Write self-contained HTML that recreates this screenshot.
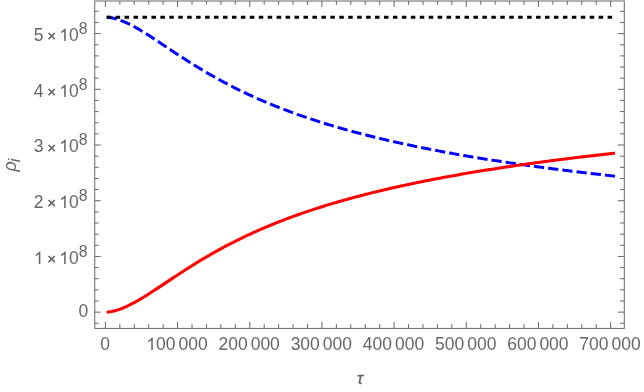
<!DOCTYPE html>
<html><head><meta charset="utf-8"><title>plot</title>
<style>
html,body{margin:0;padding:0;background:#fff;}
body{width:644px;height:392px;overflow:hidden;font-family:"Liberation Sans",sans-serif;}
svg{display:block;}
text{font-family:"Liberation Sans",sans-serif;font-size:17.5px;fill:#666;}
</style></head><body>
<svg width="644" height="392" viewBox="0 0 644 392">
<rect width="644" height="392" fill="#fff"/>
<path d="M106.70,17.21 L108.20,17.33 L109.70,17.51 L111.20,17.75 L112.70,18.05 L114.20,18.40 L115.70,18.79 L117.20,19.23 L118.70,19.72 L120.20,20.24 L121.70,20.80 L123.20,21.40 L124.70,22.03 L126.20,22.69 L127.70,23.38 L129.20,24.10 L130.70,24.85 L132.20,25.62 L133.70,26.42 L135.20,27.24 L136.70,28.08 L138.20,28.93 L139.70,29.81 L141.20,30.70 L142.70,31.60 L144.20,32.52 L145.70,33.45 L147.20,34.39 L148.70,35.34 L150.20,36.30 L151.70,37.27 L153.20,38.25 L154.70,39.23 L156.20,40.21 L157.70,41.20 L159.20,42.20 L160.70,43.19 L162.20,44.19 L163.70,45.19 L165.20,46.19 L166.70,47.19 L168.20,48.19 L169.70,49.19 L171.20,50.19 L172.70,51.18 L174.20,52.17 L175.70,53.16 L177.20,54.15 L178.70,55.13 L180.20,56.11 L181.70,57.09 L183.20,58.06 L184.70,59.03 L186.20,59.99 L187.70,60.95 L189.20,61.90 L190.70,62.84 L192.20,63.78 L193.70,64.72 L195.20,65.65 L196.70,66.57 L198.20,67.49 L199.70,68.40 L201.20,69.30 L202.70,70.20 L204.20,71.09 L205.70,71.98 L207.20,72.86 L208.70,73.73 L210.20,74.59 L211.70,75.45 L213.20,76.30 L214.70,77.15 L216.20,77.99 L217.70,78.82 L219.20,79.65 L220.70,80.46 L222.20,81.28 L223.70,82.08 L225.20,82.88 L226.70,83.67 L228.20,84.46 L229.70,85.24 L231.20,86.01 L232.70,86.78 L234.20,87.54 L235.70,88.29 L237.20,89.04 L238.70,89.78 L240.20,90.51 L241.70,91.24 L243.20,91.96 L244.70,92.68 L246.20,93.39 L247.70,94.09 L249.20,94.79 L250.70,95.48 L252.20,96.17 L253.70,96.85 L255.20,97.53 L256.70,98.20 L258.20,98.86 L259.70,99.52 L261.20,100.17 L262.70,100.82 L264.20,101.46 L265.70,102.09 L267.20,102.72 L268.70,103.35 L270.20,103.97 L271.70,104.59 L273.20,105.20 L274.70,105.80 L276.20,106.40 L277.70,107.00 L279.20,107.59 L280.70,108.17 L282.20,108.75 L283.70,109.33 L285.20,109.90 L286.70,110.47 L288.20,111.03 L289.70,111.59 L291.20,112.14 L292.70,112.69 L294.20,113.23 L295.70,113.77 L297.20,114.31 L298.70,114.84 L300.20,115.37 L301.70,115.89 L303.20,116.41 L304.70,116.93 L306.20,117.44 L307.70,117.95 L309.20,118.45 L310.70,118.95 L312.20,119.44 L313.70,119.94 L315.20,120.42 L316.70,120.91 L318.20,121.39 L319.70,121.87 L321.20,122.34 L322.70,122.81 L324.20,123.28 L325.70,123.74 L327.20,124.20 L328.70,124.66 L330.20,125.11 L331.70,125.56 L333.20,126.00 L334.70,126.45 L336.20,126.89 L337.70,127.32 L339.20,127.76 L340.70,128.19 L342.20,128.62 L343.70,129.04 L345.20,129.46 L346.70,129.88 L348.20,130.30 L349.70,130.71 L351.20,131.12 L352.70,131.53 L354.20,131.93 L355.70,132.33 L357.20,132.73 L358.70,133.13 L360.20,133.52 L361.70,133.91 L363.20,134.30 L364.70,134.68 L366.20,135.07 L367.70,135.45 L369.20,135.82 L370.70,136.20 L372.20,136.57 L373.70,136.94 L375.20,137.31 L376.70,137.68 L378.20,138.04 L379.70,138.40 L381.20,138.76 L382.70,139.11 L384.20,139.47 L385.70,139.82 L387.20,140.17 L388.70,140.52 L390.20,140.86 L391.70,141.20 L393.20,141.54 L394.70,141.88 L396.20,142.22 L397.70,142.55 L399.20,142.88 L400.70,143.21 L402.20,143.54 L403.70,143.87 L405.20,144.19 L406.70,144.52 L408.20,144.84 L409.70,145.15 L411.20,145.47 L412.70,145.78 L414.20,146.10 L415.70,146.41 L417.20,146.72 L418.70,147.02 L420.20,147.33 L421.70,147.63 L423.20,147.93 L424.70,148.23 L426.20,148.53 L427.70,148.83 L429.20,149.12 L430.70,149.42 L432.20,149.71 L433.70,150.00 L435.20,150.29 L436.70,150.57 L438.20,150.86 L439.70,151.14 L441.20,151.42 L442.70,151.70 L444.20,151.98 L445.70,152.26 L447.20,152.54 L448.70,152.81 L450.20,153.08 L451.70,153.35 L453.20,153.62 L454.70,153.89 L456.20,154.16 L457.70,154.42 L459.20,154.69 L460.70,154.95 L462.20,155.21 L463.70,155.47 L465.20,155.73 L466.70,155.99 L468.20,156.24 L469.70,156.49 L471.20,156.75 L472.70,157.00 L474.20,157.25 L475.70,157.50 L477.20,157.75 L478.70,157.99 L480.20,158.24 L481.70,158.48 L483.20,158.72 L484.70,158.97 L486.20,159.21 L487.70,159.45 L489.20,159.68 L490.70,159.92 L492.20,160.16 L493.70,160.39 L495.20,160.62 L496.70,160.85 L498.20,161.09 L499.70,161.32 L501.20,161.54 L502.70,161.77 L504.20,162.00 L505.70,162.22 L507.20,162.45 L508.70,162.67 L510.20,162.89 L511.70,163.11 L513.20,163.33 L514.70,163.55 L516.20,163.77 L517.70,163.99 L519.20,164.20 L520.70,164.42 L522.20,164.63 L523.70,164.84 L525.20,165.06 L526.70,165.27 L528.20,165.48 L529.70,165.68 L531.20,165.89 L532.70,166.10 L534.20,166.31 L535.70,166.51 L537.20,166.71 L538.70,166.92 L540.20,167.12 L541.70,167.32 L543.20,167.52 L544.70,167.72 L546.20,167.92 L547.70,168.12 L549.20,168.31 L550.70,168.51 L552.20,168.71 L553.70,168.90 L555.20,169.09 L556.70,169.29 L558.20,169.48 L559.70,169.67 L561.20,169.86 L562.70,170.05 L564.20,170.24 L565.70,170.42 L567.20,170.61 L568.70,170.80 L570.20,170.98 L571.70,171.17 L573.20,171.35 L574.70,171.53 L576.20,171.72 L577.70,171.90 L579.20,172.08 L580.70,172.26 L582.20,172.44 L583.70,172.62 L585.20,172.79 L586.70,172.97 L588.20,173.15 L589.70,173.32 L591.20,173.50 L592.70,173.67 L594.20,173.84 L595.70,174.02 L597.20,174.19 L598.70,174.36 L600.20,174.53 L601.70,174.70 L603.20,174.87 L604.70,175.04 L606.20,175.20 L607.70,175.37 L609.20,175.54 L610.70,175.70 L612.20,175.87 L613.70,176.03 L615.00,176.18" fill="none" stroke="#0000ff" stroke-width="3" stroke-dasharray="10.25 4.055" stroke-linejoin="round"/>
<path d="M106.70,312.11 L108.20,311.99 L109.70,311.80 L111.20,311.56 L112.70,311.26 L114.20,310.92 L115.70,310.52 L117.20,310.08 L118.70,309.60 L120.20,309.08 L121.70,308.52 L123.20,307.92 L124.70,307.29 L126.20,306.63 L127.70,305.93 L129.20,305.21 L130.70,304.46 L132.20,303.69 L133.70,302.90 L135.20,302.08 L136.70,301.24 L138.20,300.38 L139.70,299.51 L141.20,298.62 L142.70,297.71 L144.20,296.79 L145.70,295.86 L147.20,294.92 L148.70,293.97 L150.20,293.01 L151.70,292.04 L153.20,291.07 L154.70,290.09 L156.20,289.10 L157.70,288.11 L159.20,287.12 L160.70,286.12 L162.20,285.12 L163.70,284.13 L165.20,283.13 L166.70,282.12 L168.20,281.13 L169.70,280.13 L171.20,279.13 L172.70,278.13 L174.20,277.14 L175.70,276.15 L177.20,275.16 L178.70,274.18 L180.20,273.20 L181.70,272.23 L183.20,271.25 L184.70,270.29 L186.20,269.33 L187.70,268.37 L189.20,267.42 L190.70,266.47 L192.20,265.53 L193.70,264.60 L195.20,263.67 L196.70,262.74 L198.20,261.83 L199.70,260.92 L201.20,260.01 L202.70,259.11 L204.20,258.22 L205.70,257.34 L207.20,256.46 L208.70,255.59 L210.20,254.72 L211.70,253.86 L213.20,253.01 L214.70,252.17 L216.20,251.33 L217.70,250.50 L219.20,249.67 L220.70,248.85 L222.20,248.04 L223.70,247.23 L225.20,246.43 L226.70,245.64 L228.20,244.86 L229.70,244.08 L231.20,243.31 L232.70,242.54 L234.20,241.78 L235.70,241.03 L237.20,240.28 L238.70,239.54 L240.20,238.80 L241.70,238.07 L243.20,237.35 L244.70,236.64 L246.20,235.93 L247.70,235.22 L249.20,234.52 L250.70,233.83 L252.20,233.15 L253.70,232.46 L255.20,231.79 L256.70,231.12 L258.20,230.46 L259.70,229.80 L261.20,229.15 L262.70,228.50 L264.20,227.86 L265.70,227.22 L267.20,226.59 L268.70,225.97 L270.20,225.34 L271.70,224.73 L273.20,224.12 L274.70,223.51 L276.20,222.91 L277.70,222.32 L279.20,221.73 L280.70,221.14 L282.20,220.56 L283.70,219.99 L285.20,219.41 L286.70,218.85 L288.20,218.29 L289.70,217.73 L291.20,217.17 L292.70,216.63 L294.20,216.08 L295.70,215.54 L297.20,215.01 L298.70,214.47 L300.20,213.95 L301.70,213.42 L303.20,212.90 L304.70,212.39 L306.20,211.88 L307.70,211.37 L309.20,210.87 L310.70,210.37 L312.20,209.87 L313.70,209.38 L315.20,208.89 L316.70,208.41 L318.20,207.93 L319.70,207.45 L321.20,206.98 L322.70,206.51 L324.20,206.04 L325.70,205.58 L327.20,205.12 L328.70,204.66 L330.20,204.21 L331.70,203.76 L333.20,203.31 L334.70,202.87 L336.20,202.43 L337.70,201.99 L339.20,201.56 L340.70,201.13 L342.20,200.70 L343.70,200.27 L345.20,199.85 L346.70,199.43 L348.20,199.02 L349.70,198.61 L351.20,198.20 L352.70,197.79 L354.20,197.39 L355.70,196.98 L357.20,196.59 L358.70,196.19 L360.20,195.80 L361.70,195.41 L363.20,195.02 L364.70,194.63 L366.20,194.25 L367.70,193.87 L369.20,193.49 L370.70,193.12 L372.20,192.74 L373.70,192.37 L375.20,192.01 L376.70,191.64 L378.20,191.28 L379.70,190.92 L381.20,190.56 L382.70,190.20 L384.20,189.85 L385.70,189.50 L387.20,189.15 L388.70,188.80 L390.20,188.46 L391.70,188.11 L393.20,187.77 L394.70,187.43 L396.20,187.10 L397.70,186.76 L399.20,186.43 L400.70,186.10 L402.20,185.77 L403.70,185.45 L405.20,185.12 L406.70,184.80 L408.20,184.48 L409.70,184.16 L411.20,183.85 L412.70,183.53 L414.20,183.22 L415.70,182.91 L417.20,182.60 L418.70,182.29 L420.20,181.99 L421.70,181.68 L423.20,181.38 L424.70,181.08 L426.20,180.78 L427.70,180.49 L429.20,180.19 L430.70,179.90 L432.20,179.61 L433.70,179.32 L435.20,179.03 L436.70,178.74 L438.20,178.46 L439.70,178.17 L441.20,177.89 L442.70,177.61 L444.20,177.33 L445.70,177.06 L447.20,176.78 L448.70,176.51 L450.20,176.23 L451.70,175.96 L453.20,175.69 L454.70,175.42 L456.20,175.16 L457.70,174.89 L459.20,174.63 L460.70,174.37 L462.20,174.11 L463.70,173.85 L465.20,173.59 L466.70,173.33 L468.20,173.07 L469.70,172.82 L471.20,172.57 L472.70,172.32 L474.20,172.07 L475.70,171.82 L477.20,171.57 L478.70,171.32 L480.20,171.08 L481.70,170.83 L483.20,170.59 L484.70,170.35 L486.20,170.11 L487.70,169.87 L489.20,169.63 L490.70,169.40 L492.20,169.16 L493.70,168.93 L495.20,168.69 L496.70,168.46 L498.20,168.23 L499.70,168.00 L501.20,167.77 L502.70,167.54 L504.20,167.32 L505.70,167.09 L507.20,166.87 L508.70,166.65 L510.20,166.42 L511.70,166.20 L513.20,165.98 L514.70,165.76 L516.20,165.55 L517.70,165.33 L519.20,165.11 L520.70,164.90 L522.20,164.68 L523.70,164.47 L525.20,164.26 L526.70,164.05 L528.20,163.84 L529.70,163.63 L531.20,163.42 L532.70,163.22 L534.20,163.01 L535.70,162.80 L537.20,162.60 L538.70,162.40 L540.20,162.20 L541.70,161.99 L543.20,161.79 L544.70,161.59 L546.20,161.40 L547.70,161.20 L549.20,161.00 L550.70,160.80 L552.20,160.61 L553.70,160.42 L555.20,160.22 L556.70,160.03 L558.20,159.84 L559.70,159.65 L561.20,159.46 L562.70,159.27 L564.20,159.08 L565.70,158.89 L567.20,158.70 L568.70,158.52 L570.20,158.33 L571.70,158.15 L573.20,157.96 L574.70,157.78 L576.20,157.60 L577.70,157.42 L579.20,157.24 L580.70,157.06 L582.20,156.88 L583.70,156.70 L585.20,156.52 L586.70,156.35 L588.20,156.17 L589.70,155.99 L591.20,155.82 L592.70,155.65 L594.20,155.47 L595.70,155.30 L597.20,155.13 L598.70,154.96 L600.20,154.79 L601.70,154.62 L603.20,154.45 L604.70,154.28 L606.20,154.11 L607.70,153.94 L609.20,153.78 L610.70,153.61 L612.20,153.45 L613.70,153.28 L615.00,153.14" fill="none" stroke="#ff0000" stroke-width="3.05" stroke-linejoin="round"/>
<path d="M106.7,17.17 H615.0" fill="none" stroke="#000" stroke-width="3" stroke-dasharray="4.5 4.445"/>
<rect x="94.75" y="1.0" width="529.55" height="327.40" fill="none" stroke="#666" stroke-width="1"/>
<path d="M105.40,328.4 v-6.5 M105.40,1.0 v6.0 M119.84,328.4 v-4.3 M119.84,1.0 v3.8 M134.27,328.4 v-4.3 M134.27,1.0 v3.8 M148.71,328.4 v-4.3 M148.71,1.0 v3.8 M163.14,328.4 v-4.3 M163.14,1.0 v3.8 M177.58,328.4 v-6.5 M177.58,1.0 v6.0 M192.02,328.4 v-4.3 M192.02,1.0 v3.8 M206.45,328.4 v-4.3 M206.45,1.0 v3.8 M220.89,328.4 v-4.3 M220.89,1.0 v3.8 M235.32,328.4 v-4.3 M235.32,1.0 v3.8 M249.76,328.4 v-6.5 M249.76,1.0 v6.0 M264.20,328.4 v-4.3 M264.20,1.0 v3.8 M278.63,328.4 v-4.3 M278.63,1.0 v3.8 M293.07,328.4 v-4.3 M293.07,1.0 v3.8 M307.50,328.4 v-4.3 M307.50,1.0 v3.8 M321.94,328.4 v-6.5 M321.94,1.0 v6.0 M336.38,328.4 v-4.3 M336.38,1.0 v3.8 M350.81,328.4 v-4.3 M350.81,1.0 v3.8 M365.25,328.4 v-4.3 M365.25,1.0 v3.8 M379.68,328.4 v-4.3 M379.68,1.0 v3.8 M394.12,328.4 v-6.5 M394.12,1.0 v6.0 M408.56,328.4 v-4.3 M408.56,1.0 v3.8 M422.99,328.4 v-4.3 M422.99,1.0 v3.8 M437.43,328.4 v-4.3 M437.43,1.0 v3.8 M451.86,328.4 v-4.3 M451.86,1.0 v3.8 M466.30,328.4 v-6.5 M466.30,1.0 v6.0 M480.74,328.4 v-4.3 M480.74,1.0 v3.8 M495.17,328.4 v-4.3 M495.17,1.0 v3.8 M509.61,328.4 v-4.3 M509.61,1.0 v3.8 M524.04,328.4 v-4.3 M524.04,1.0 v3.8 M538.48,328.4 v-6.5 M538.48,1.0 v6.0 M552.92,328.4 v-4.3 M552.92,1.0 v3.8 M567.35,328.4 v-4.3 M567.35,1.0 v3.8 M581.79,328.4 v-4.3 M581.79,1.0 v3.8 M596.22,328.4 v-4.3 M596.22,1.0 v3.8 M610.66,328.4 v-6.5 M610.66,1.0 v6.0 M94.75,323.29 h3.8499999999999996 M624.3,323.29 h-4.3 M94.75,312.15 h6.05 M624.3,312.15 h-6.5 M94.75,301.01 h3.8499999999999996 M624.3,301.01 h-4.3 M94.75,289.87 h3.8499999999999996 M624.3,289.87 h-4.3 M94.75,278.72 h3.8499999999999996 M624.3,278.72 h-4.3 M94.75,267.58 h3.8499999999999996 M624.3,267.58 h-4.3 M94.75,256.44 h6.05 M624.3,256.44 h-6.5 M94.75,245.30 h3.8499999999999996 M624.3,245.30 h-4.3 M94.75,234.16 h3.8499999999999996 M624.3,234.16 h-4.3 M94.75,223.01 h3.8499999999999996 M624.3,223.01 h-4.3 M94.75,211.87 h3.8499999999999996 M624.3,211.87 h-4.3 M94.75,200.73 h6.05 M624.3,200.73 h-6.5 M94.75,189.59 h3.8499999999999996 M624.3,189.59 h-4.3 M94.75,178.45 h3.8499999999999996 M624.3,178.45 h-4.3 M94.75,167.30 h3.8499999999999996 M624.3,167.30 h-4.3 M94.75,156.16 h3.8499999999999996 M624.3,156.16 h-4.3 M94.75,145.02 h6.05 M624.3,145.02 h-6.5 M94.75,133.88 h3.8499999999999996 M624.3,133.88 h-4.3 M94.75,122.74 h3.8499999999999996 M624.3,122.74 h-4.3 M94.75,111.59 h3.8499999999999996 M624.3,111.59 h-4.3 M94.75,100.45 h3.8499999999999996 M624.3,100.45 h-4.3 M94.75,89.31 h6.05 M624.3,89.31 h-6.5 M94.75,78.17 h3.8499999999999996 M624.3,78.17 h-4.3 M94.75,67.03 h3.8499999999999996 M624.3,67.03 h-4.3 M94.75,55.88 h3.8499999999999996 M624.3,55.88 h-4.3 M94.75,44.74 h3.8499999999999996 M624.3,44.74 h-4.3 M94.75,33.60 h6.05 M624.3,33.60 h-6.5 M94.75,22.46 h3.8499999999999996 M624.3,22.46 h-4.3 M94.75,11.32 h3.8499999999999996 M624.3,11.32 h-4.3" fill="none" stroke="#666" stroke-width="1"/>
<g style="filter:opacity(1)"><text x="105.05" y="350.1" text-anchor="middle">0</text><path d="M6.520,0 L4.982,0 L4.982,-9.801 Q4.426,-9.271 3.525,-8.742 Q2.623,-8.212 1.906,-7.947 L1.906,-9.434 Q3.196,-10.040 4.161,-10.903 Q5.127,-11.767 5.529,-12.578 L6.520,-12.578 Z" transform="translate(146.28,350.10)" fill="#666"/><text x="146.28" y="350.1" style="fill:none">1</text><text x="156.01" y="350.1">00</text><text x="178.48" y="350.1">000</text><text x="218.46" y="350.1">200</text><text x="250.66" y="350.1">000</text><text x="290.64" y="350.1">300</text><text x="322.84" y="350.1">000</text><text x="362.82" y="350.1">400</text><text x="395.02" y="350.1">000</text><text x="435.00" y="350.1">500</text><text x="467.20" y="350.1">000</text><text x="507.18" y="350.1">600</text><text x="539.38" y="350.1">000</text><text x="579.36" y="350.1">700</text><text x="611.56" y="350.1">000</text></g>
<g style="filter:opacity(1)"><text x="88.35" y="317" text-anchor="end">0</text><path d="M6.520,0 L4.982,0 L4.982,-9.801 Q4.426,-9.271 3.525,-8.742 Q2.623,-8.212 1.906,-7.947 L1.906,-9.434 Q3.196,-10.040 4.161,-10.903 Q5.127,-11.767 5.529,-12.578 L6.520,-12.578 Z" transform="translate(33.83,264.00)" fill="#666"/><text x="33.83" y="264" style="fill:none">1</text><text x="51.6" y="264" text-anchor="middle" style="font-size:15px" stroke="#666" stroke-width="0.5">×</text><path d="M6.520,0 L4.982,0 L4.982,-9.801 Q4.426,-9.271 3.525,-8.742 Q2.623,-8.212 1.906,-7.947 L1.906,-9.434 Q3.196,-10.040 4.161,-10.903 Q5.127,-11.767 5.529,-12.578 L6.520,-12.578 Z" transform="translate(59.18,264.00)" fill="#666"/><text x="59.18" y="264" style="fill:none">1</text><text x="68.91" y="264">0</text><text x="78.65" y="257" style="font-size:15.8px">8</text><text x="38.7" y="208" text-anchor="middle">2</text><text x="51.6" y="208" text-anchor="middle" style="font-size:15px" stroke="#666" stroke-width="0.5">×</text><path d="M6.520,0 L4.982,0 L4.982,-9.801 Q4.426,-9.271 3.525,-8.742 Q2.623,-8.212 1.906,-7.947 L1.906,-9.434 Q3.196,-10.040 4.161,-10.903 Q5.127,-11.767 5.529,-12.578 L6.520,-12.578 Z" transform="translate(59.18,208.00)" fill="#666"/><text x="59.18" y="208" style="fill:none">1</text><text x="68.91" y="208">0</text><text x="78.65" y="201" style="font-size:15.8px">8</text><text x="38.7" y="152" text-anchor="middle">3</text><text x="51.6" y="153" text-anchor="middle" style="font-size:15px" stroke="#666" stroke-width="0.5">×</text><path d="M6.520,0 L4.982,0 L4.982,-9.801 Q4.426,-9.271 3.525,-8.742 Q2.623,-8.212 1.906,-7.947 L1.906,-9.434 Q3.196,-10.040 4.161,-10.903 Q5.127,-11.767 5.529,-12.578 L6.520,-12.578 Z" transform="translate(59.18,152.00)" fill="#666"/><text x="59.18" y="152" style="fill:none">1</text><text x="68.91" y="152">0</text><text x="78.65" y="145" style="font-size:15.8px">8</text><text x="38.7" y="97" text-anchor="middle">4</text><text x="51.6" y="97" text-anchor="middle" style="font-size:15px" stroke="#666" stroke-width="0.5">×</text><path d="M6.520,0 L4.982,0 L4.982,-9.801 Q4.426,-9.271 3.525,-8.742 Q2.623,-8.212 1.906,-7.947 L1.906,-9.434 Q3.196,-10.040 4.161,-10.903 Q5.127,-11.767 5.529,-12.578 L6.520,-12.578 Z" transform="translate(59.18,97.00)" fill="#666"/><text x="59.18" y="97" style="fill:none">1</text><text x="68.91" y="97">0</text><text x="78.65" y="90" style="font-size:15.8px">8</text><text x="38.7" y="41" text-anchor="middle">5</text><text x="51.6" y="41" text-anchor="middle" style="font-size:15px" stroke="#666" stroke-width="0.5">×</text><path d="M6.520,0 L4.982,0 L4.982,-9.801 Q4.426,-9.271 3.525,-8.742 Q2.623,-8.212 1.906,-7.947 L1.906,-9.434 Q3.196,-10.040 4.161,-10.903 Q5.127,-11.767 5.529,-12.578 L6.520,-12.578 Z" transform="translate(59.18,41.00)" fill="#666"/><text x="59.18" y="41" style="fill:none">1</text><text x="68.91" y="41">0</text><text x="78.65" y="34" style="font-size:15.8px">8</text></g>
<g style="filter:opacity(1)"><text x="360.2" y="384.2" text-anchor="middle" style="font-style:italic;font-size:16.8px" stroke="#666" stroke-width="0.3">τ</text></g>
<g style="filter:opacity(1)"><g transform="translate(16.1,164.6) rotate(-90)"><text x="-6.9" y="0" style="font-style:italic;font-size:18px">ρ</text><text x="2.3" y="3.4" style="font-style:italic;font-size:16.8px">i</text></g></g>
</svg>
</body></html>
